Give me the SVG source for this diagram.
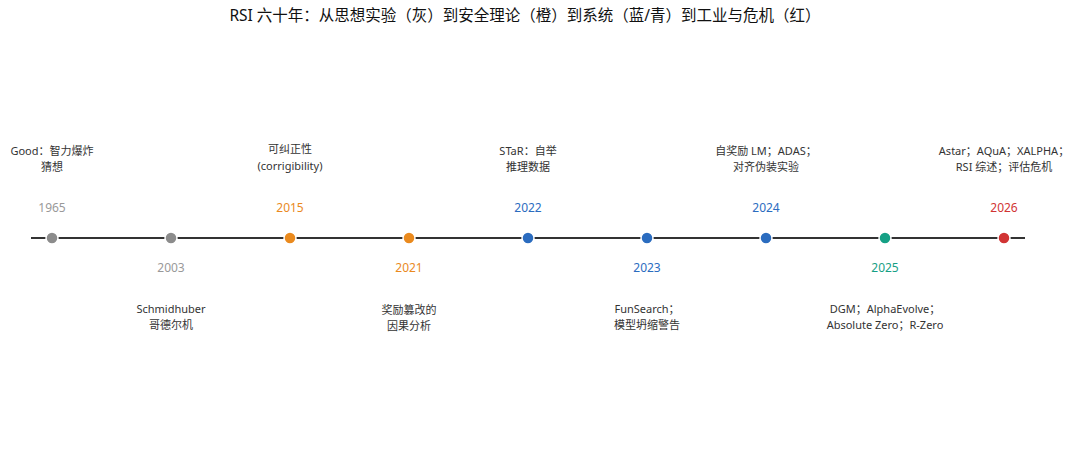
<svg xmlns="http://www.w3.org/2000/svg" width="1080" height="452" viewBox="0 0 1080 452">
<style>
text{font-family:"Noto Sans","Noto Sans CJK SC",sans-serif;text-anchor:middle}
.t{font-size:15.5px;fill:#111}
.d{font-size:11px;fill:#333}
.y{font-size:12px}
circle{stroke:#fff;stroke-width:1.5}
.g{fill:#8c8c8c}.o{fill:#ea8a1e}.b{fill:#2b6cbf}.c{fill:#16a085}.r{fill:#d13434}
.yg{fill:#999}
</style>
<rect width="1080" height="452" fill="#fff"/>
<text class="t" x="525" y="21">RSI 六十年：从思想实验（灰）到安全理论（橙）到系统（蓝/青）到工业与危机（红）</text>
<g id="connectors"><line x1="31" y1="238" x2="1025" y2="238" stroke="#333" stroke-width="2"/></g>
<g id="n1965"><circle cx="52" cy="238" r="6" class="g"/><text class="y yg" x="52" y="212">1965</text><text class="d" x="52" y="155">Good：智力爆炸</text><text class="d" x="52" y="171">猜想</text></g>
<g id="n2003"><circle cx="171" cy="238" r="6" class="g"/><text class="y yg" x="171" y="272">2003</text><text class="d" x="171" y="313">Schmidhuber</text><text class="d" x="171" y="329">哥德尔机</text></g>
<g id="n2015"><circle cx="290" cy="238" r="6" class="o"/><text class="y o" x="290" y="212">2015</text><text class="d" x="290" y="153">可纠正性</text><text class="d" x="290" y="170">(corrigibility)</text></g>
<g id="n2021"><circle cx="409" cy="238" r="6" class="o"/><text class="y o" x="409" y="272">2021</text><text class="d" x="409" y="314">奖励篡改的</text><text class="d" x="409" y="330">因果分析</text></g>
<g id="n2022"><circle cx="528" cy="238" r="6" class="b"/><text class="y b" x="528" y="212">2022</text><text class="d" x="528" y="155">STaR：自举</text><text class="d" x="528" y="171">推理数据</text></g>
<g id="n2023"><circle cx="647" cy="238" r="6" class="b"/><text class="y b" x="647" y="272">2023</text><text class="d" x="647" y="313">FunSearch；</text><text class="d" x="647" y="329">模型坍缩警告</text></g>
<g id="n2024"><circle cx="766" cy="238" r="6" class="b"/><text class="y b" x="766" y="212">2024</text><text class="d" x="766" y="155">自奖励 LM；ADAS；</text><text class="d" x="766" y="171">对齐伪装实验</text></g>
<g id="n2025"><circle cx="885" cy="238" r="6" class="c"/><text class="y c" x="885" y="272">2025</text><text class="d" x="885" y="313">DGM；AlphaEvolve；</text><text class="d" x="885" y="329">Absolute Zero；R-Zero</text></g>
<g id="n2026"><circle cx="1004" cy="238" r="6" class="r"/><text class="y r" x="1004" y="212">2026</text><text class="d" x="1004" y="155">Astar；AQuA；XALPHA；</text><text class="d" x="1004" y="171">RSI 综述；评估危机</text></g>
</svg>
